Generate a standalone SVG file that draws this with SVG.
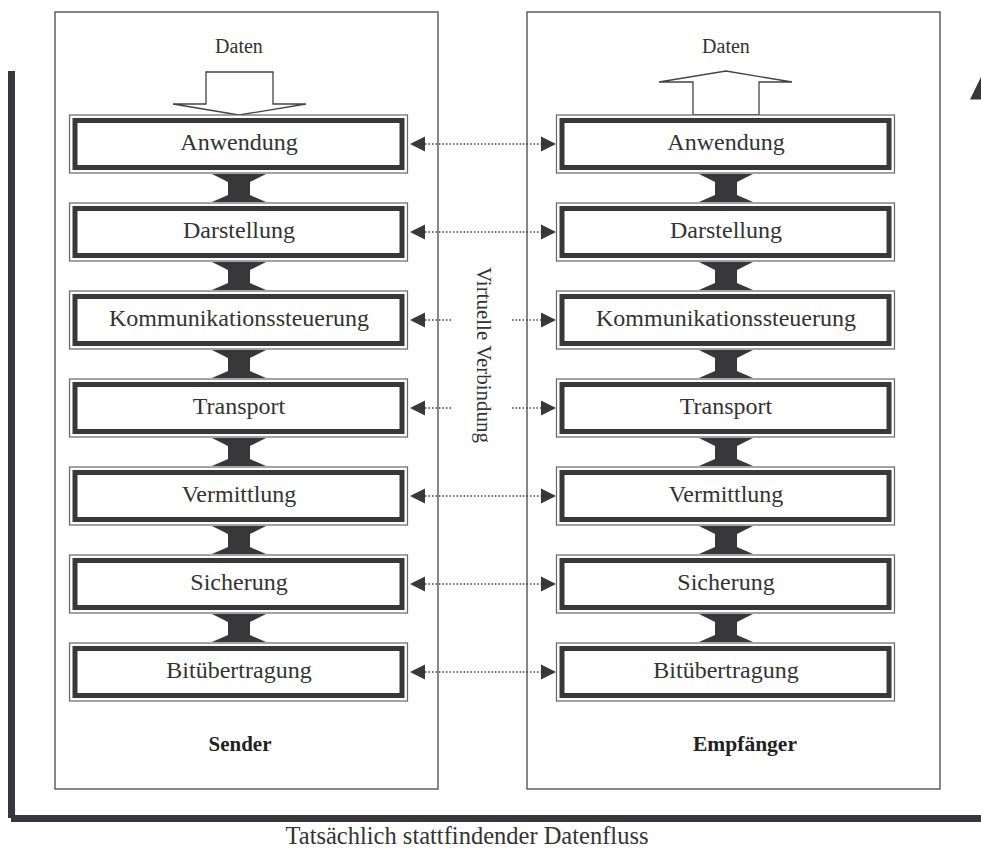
<svg xmlns="http://www.w3.org/2000/svg" width="981" height="851" viewBox="0 0 981 851">
<defs>
<style>
.panel{fill:none;stroke:#555;stroke-width:1.4}
.outer{fill:#fff;stroke:#666;stroke-width:1.2}
.thick{fill:none;stroke:#38383b;stroke-width:5}
.lbl{font-family:"Liberation Serif","Times New Roman",serif;font-size:24px;fill:#333;text-anchor:middle}
.small{font-family:"Liberation Serif","Times New Roman",serif;font-size:20px;fill:#333;text-anchor:middle}
.bold{font-family:"Liberation Serif","Times New Roman",serif;font-size:21px;font-weight:bold;fill:#222;text-anchor:middle}
.dot{fill:none;stroke:#444;stroke-width:1.5;stroke-dasharray:1.5 2}
.ud{fill:#38383b}
.head{fill:#38383b}
.big{fill:#fff;stroke:#444;stroke-width:1.3}
</style>
<g id="layer">
<rect class="outer" x="0" y="0" width="338" height="58"/>
<rect class="thick" x="5.5" y="5.5" width="327" height="47"/>
</g>
<polygon id="ud" class="ud" points="0,1 54,1 38,9 38,22 54,29 0,29 16,22 16,9"/>
<polygon id="hl" class="head" points="0,0 15,-7.5 15,7.5"/>
<polygon id="hr" class="head" points="0,0 -15,-7.5 -15,7.5"/>
</defs>

<rect x="8" y="71" width="7" height="747" fill="#38383b"/>
<rect x="11" y="815" width="975" height="7" fill="#38383b"/>
<polygon points="970,99.5 995,99.5 982.5,74" fill="#38383b"/>

<g id="sender">
<rect class="panel" x="55" y="12" width="383" height="777"/>
<text class="bold" x="240" y="751">Sender</text>
</g>
<g id="empfaenger">
<rect class="panel" x="527" y="12" width="413" height="777"/>
<text class="bold" style="font-size:21.5px" x="745" y="751">Empfänger</text>
</g>

<g id="daten-in">
<text class="small" x="239" y="53">Daten</text>
<polygon class="big" points="206,72 273,72 273,104 306,104 239,115 173,104 206,104"/>
</g>
<g id="daten-out">
<text class="small" x="726" y="53">Daten</text>
<polygon class="big" points="693,115 759,115 759,82 792,82 726,71 659,82 693,82"/>
</g>

<g id="connectors">
<use href="#ud" x="212" y="173"/><use href="#ud" x="212" y="261"/><use href="#ud" x="212" y="349"/><use href="#ud" x="212" y="437"/><use href="#ud" x="212" y="525"/><use href="#ud" x="212" y="613"/>
<use href="#ud" x="699" y="173"/><use href="#ud" x="699" y="261"/><use href="#ud" x="699" y="349"/><use href="#ud" x="699" y="437"/><use href="#ud" x="699" y="525"/><use href="#ud" x="699" y="613"/>
<path class="dot" d="M425,144H541M425,232H541M425,320H452M512,320H541M425,408H452M512,408H541M425,496H541M425,584H541M425,672H541"/>
<use href="#hl" x="410" y="144"/><use href="#hl" x="410" y="232"/><use href="#hl" x="410" y="320"/><use href="#hl" x="410" y="408"/><use href="#hl" x="410" y="496"/><use href="#hl" x="410" y="584"/><use href="#hl" x="410" y="672"/>
<use href="#hr" x="556" y="144"/><use href="#hr" x="556" y="232"/><use href="#hr" x="556" y="320"/><use href="#hr" x="556" y="408"/><use href="#hr" x="556" y="496"/><use href="#hr" x="556" y="584"/><use href="#hr" x="556" y="672"/>
<text class="small" style="font-size:21px" transform="translate(477,355) rotate(90)">Virtuelle Verbindung</text>
</g>

<g id="s-anwendung"><use href="#layer" x="69.5" y="115"/><text class="lbl" x="239" y="150">Anwendung</text></g>
<g id="s-darstellung"><use href="#layer" x="69.5" y="203"/><text class="lbl" x="239" y="238">Darstellung</text></g>
<g id="s-komm"><use href="#layer" x="69.5" y="291"/><text class="lbl" x="239" y="326">Kommunikationssteuerung</text></g>
<g id="s-transport"><use href="#layer" x="69.5" y="379"/><text class="lbl" x="239" y="414">Transport</text></g>
<g id="s-vermittlung"><use href="#layer" x="69.5" y="467"/><text class="lbl" x="239" y="502">Vermittlung</text></g>
<g id="s-sicherung"><use href="#layer" x="69.5" y="555"/><text class="lbl" x="239" y="590">Sicherung</text></g>
<g id="s-bit"><use href="#layer" x="69.5" y="643"/><text class="lbl" x="239" y="678">Bitübertragung</text></g>

<g id="e-anwendung"><use href="#layer" x="556.5" y="115"/><text class="lbl" x="726" y="150">Anwendung</text></g>
<g id="e-darstellung"><use href="#layer" x="556.5" y="203"/><text class="lbl" x="726" y="238">Darstellung</text></g>
<g id="e-komm"><use href="#layer" x="556.5" y="291"/><text class="lbl" x="726" y="326">Kommunikationssteuerung</text></g>
<g id="e-transport"><use href="#layer" x="556.5" y="379"/><text class="lbl" x="726" y="414">Transport</text></g>
<g id="e-vermittlung"><use href="#layer" x="556.5" y="467"/><text class="lbl" x="726" y="502">Vermittlung</text></g>
<g id="e-sicherung"><use href="#layer" x="556.5" y="555"/><text class="lbl" x="726" y="590">Sicherung</text></g>
<g id="e-bit"><use href="#layer" x="556.5" y="643"/><text class="lbl" x="726" y="678">Bitübertragung</text></g>

<text class="lbl" style="font-size:24.5px" x="467" y="844">Tatsächlich stattfindender Datenfluss</text>
</svg>
